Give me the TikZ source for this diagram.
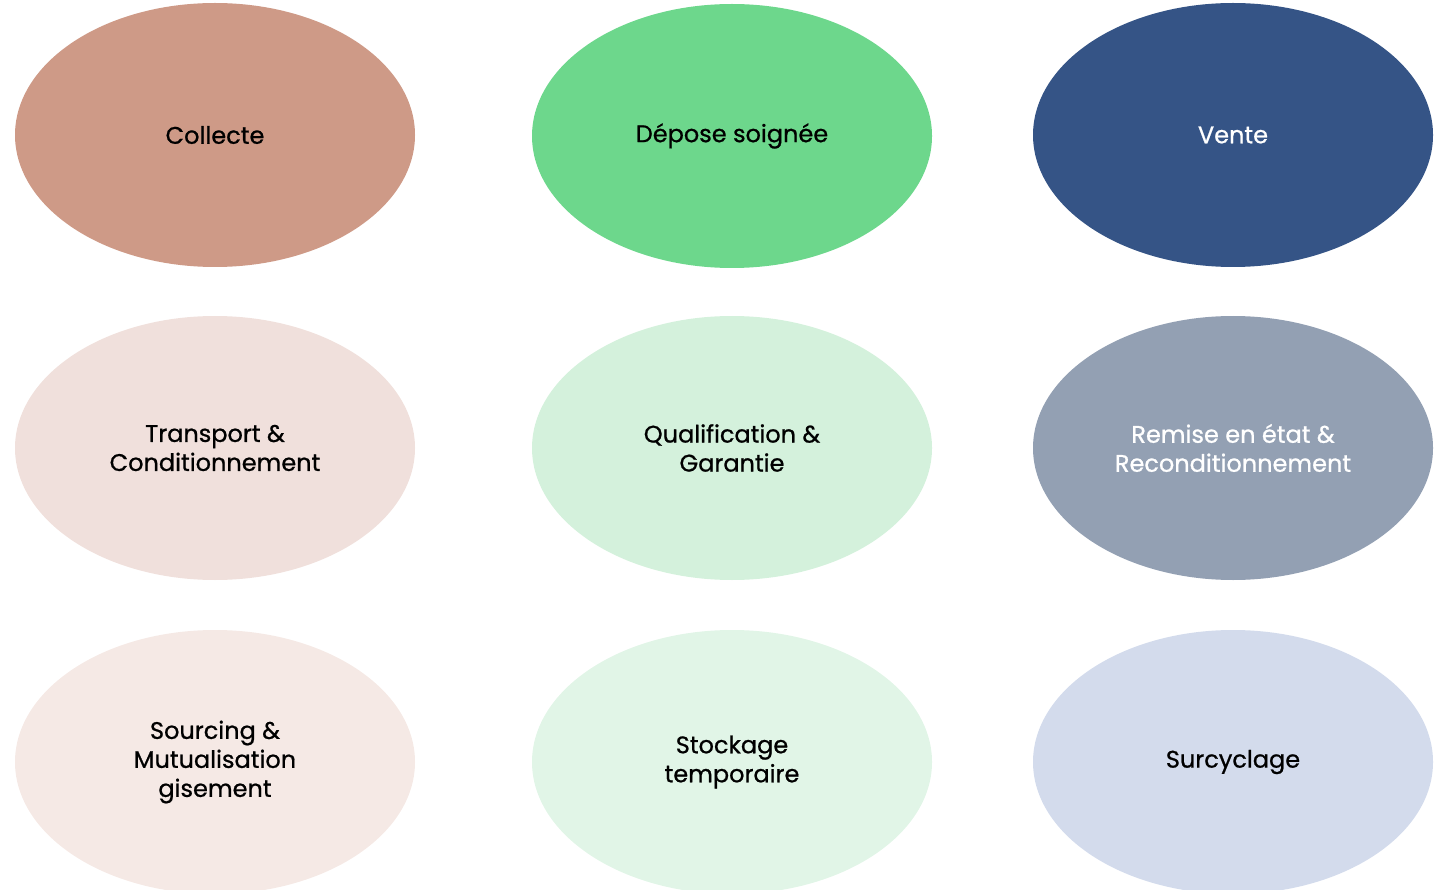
\documentclass[tikz,border=0pt]{standalone}
\usepackage{fontspec}
\setmainfont{Poppins}
\newfontfamily\etapefont{Poppins}[RawFeature={embolden=0.8}]
\usetikzlibrary{shapes.geometric}
\definecolor{collecteC}{HTML}{CE9A87}
\definecolor{deposeC}{HTML}{6DD78C}
\definecolor{venteC}{HTML}{355486}
\definecolor{transportC}{HTML}{F0E0DC}
\definecolor{qualifC}{HTML}{D4F1DC}
\definecolor{remiseC}{HTML}{93A0B3}
\definecolor{sourcingC}{HTML}{F5E9E5}
\definecolor{stockageC}{HTML}{E1F5E7}
\definecolor{surcyclC}{HTML}{D3DBEC}
\tikzset{
    etape/.style={ellipse,draw=none,minimum width=400pt,minimum height=264pt,
        inner sep=0pt,align=center,font=\etapefont\fontsize{24}{29}\selectfont},
}

\begin{document}
\begin{tikzpicture}[x=1pt,y=-1pt]
            \useasboundingbox (0,0) rectangle (1439,890);
            \node[etape,fill=collecteC] (collecte) at (215,135) {Collecte};
            \node[etape,fill=deposeC] (depose) at (732,136) {Dépose soignée};
            \node[etape,fill=venteC,text=white] (vente) at (1233,135) {Vente};
            \node[etape,fill=transportC] (transport) at (215,448) {Transport \&\\Conditionnement};
            \node[etape,fill=qualifC] (qualif) at (732,448) {Qualification \&\\Garantie};
            \node[etape,fill=remiseC,text=white] (remise) at (1233,448) {Remise en état \&\\Reconditionnement};
            \node[etape,fill=sourcingC] (sourcing) at (215,762) {Sourcing \&\\Mutualisation\\gisement};
            \node[etape,fill=stockageC] (stockage) at (732,762) {Stockage\\temporaire};
            \node[etape,fill=surcyclC] (surcyclage) at (1233,762) {Surcyclage};
        \end{tikzpicture}
\end{document}
